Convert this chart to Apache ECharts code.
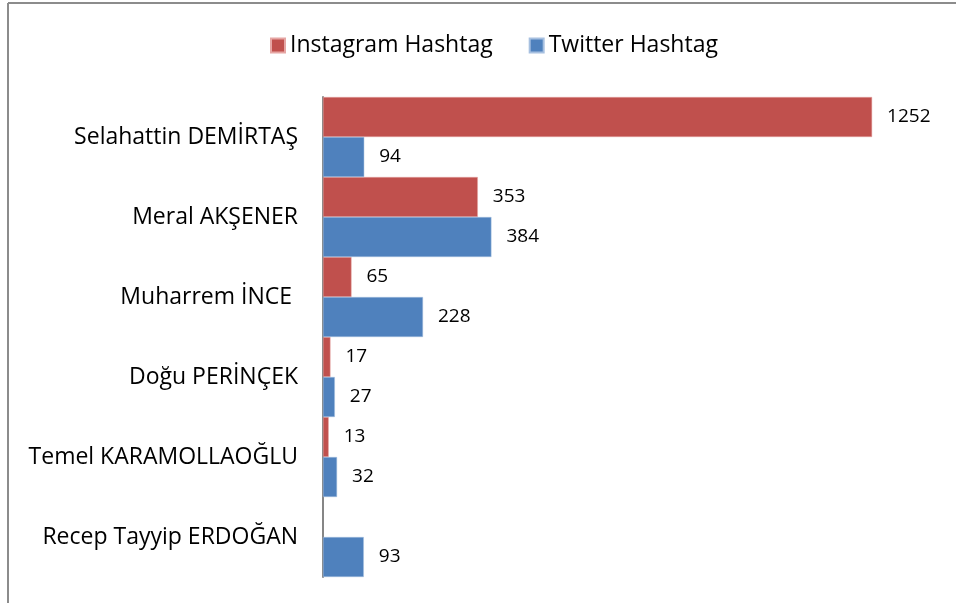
<!DOCTYPE html>
<html>
<head>
<meta charset="utf-8">
<script src="https://cdn.jsdelivr.net/npm/echarts@6/dist/echarts.min.js"></script>
<style>html,body{margin:0;padding:0;background:#fff}#c{width:956px;height:603px}</style>
</head>
<body>
<div id="c"></div>
<script>
const categories = ["Selahattin DEMİRTAŞ", "Meral AKŞENER", "Muharrem İNCE ", "Doğu PERİNÇEK", "Temel KARAMOLLAOĞLU", "Recep Tayyip ERDOĞAN"];
const instagram = [1252, 353, 65, 17, 13, null];
const twitter = [94, 384, 228, 27, 32, 93];
const seriesNames = ["Instagram Hashtag", "Twitter Hashtag"];

const FONT = "Open Sans";
const chart = echarts.init(document.getElementById('c'), null, {renderer: 'canvas'});
const labelCfg = {show: true, position: 'right', distance: 15, color: '#000', fontSize: 19, fontFamily: FONT};
chart.setOption({
  animation: false,
  backgroundColor: '#fff',
  graphic: [
    {type: 'line', shape: {x1: 8, y1: 3, x2: 956, y2: 3}, style: {stroke: '#8c8c8c', lineWidth: 2}},
    {type: 'line', shape: {x1: 8, y1: 3, x2: 8, y2: 603}, style: {stroke: '#8c8c8c', lineWidth: 2}}
  ],
  legend: {
    top: 29, left: 265,
    itemWidth: 14, itemHeight: 14, itemGap: 36,
    icon: 'rect',
    textStyle: {fontSize: 23, color: '#000', fontFamily: FONT},
    data: seriesNames
  },
  grid: {left: 323, right: 19, top: 97, bottom: 26, containLabel: false},
  xAxis: {type: 'value', min: 0, max: 1400, show: false, splitLine: {show: false}},
  yAxis: {
    type: 'category', inverse: true, data: categories,
    axisLine: {show: true, lineStyle: {color: '#868686', width: 2}},
    axisTick: {show: false},
    axisLabel: {color: '#000', fontSize: 23, fontFamily: FONT, margin: 25}
  },
  series: [
    {name: seriesNames[0], type: 'bar', data: instagram, barGap: '0%', barCategoryGap: '0%',
     itemStyle: {color: '#C0504D', borderColor: '#e6a6a4', borderWidth: 0.5}, label: labelCfg},
    {name: seriesNames[1], type: 'bar', data: twitter, barGap: '0%', barCategoryGap: '0%',
     itemStyle: {color: '#4F81BD', borderColor: '#a7c0e0', borderWidth: 0.5}, label: labelCfg}
  ]
});
</script>
</body>
</html>
